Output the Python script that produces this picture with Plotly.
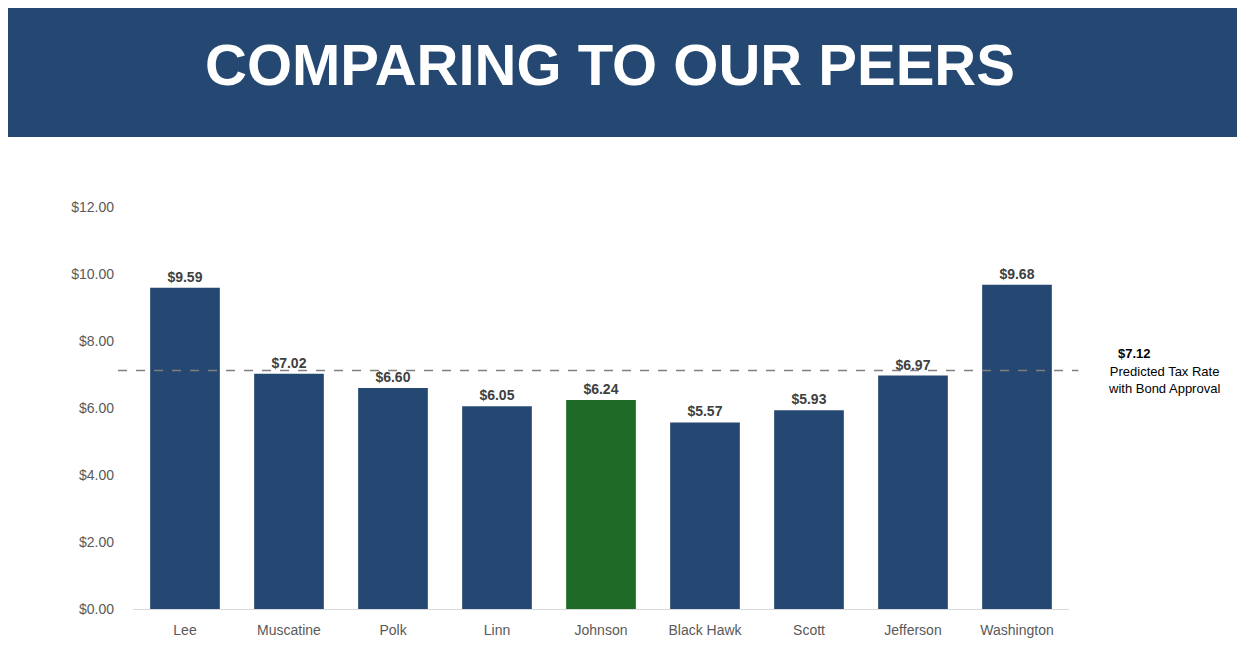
import plotly.graph_objects as go

counties = ["Lee", "Muscatine", "Polk", "Linn", "Johnson", "Black Hawk", "Scott", "Jefferson", "Washington"]
rates = [9.59, 7.02, 6.60, 6.05, 6.24, 5.57, 5.93, 6.97, 9.68]
predicted = 7.12
tick_vals = [0, 2, 4, 6, 8, 10, 12]

navy = "#254872"
green = "#1e6b27"
colors = [green if c == "Johnson" else navy for c in counties]

fig = go.Figure(go.Bar(
    x=counties, y=rates, marker_color=colors, marker_line_width=0,
    text=[f"<b>${v:.2f}</b>" for v in rates], textposition="outside",
    textfont=dict(family="Liberation Sans", size=14, color="#404040"),
    cliponaxis=False,
))
fig.update_layout(
    width=1245, height=672, paper_bgcolor="white", plot_bgcolor="white",
    margin=dict(l=125, r=184, t=199, b=71), bargap=0.33, showlegend=False,
    font=dict(family="Liberation Sans", color="#595959"),
    shapes=[
        dict(type="rect", xref="paper", yref="paper", x0=-0.3, x1=1.4, y0=1.174, y1=1.7,
             fillcolor=navy, line_width=0, layer="below"),
        dict(type="line", xref="paper", yref="y", x0=-0.016, x1=1.01, y0=predicted, y1=predicted,
             line=dict(color="#7f7f7f", width=1.5, dash="dash")),
    ],
    annotations=[
        dict(text="<b>COMPARING TO OUR PEERS</b>", xref="paper", yref="paper", x=0.51, y=1.355,
             xanchor="center", yanchor="middle", showarrow=False,
             font=dict(family="Liberation Sans", size=58, color="white")),
        dict(text=f"<b>${predicted:.2f}</b>", xref="paper", yref="y", x=1.05, y=predicted,
             yshift=17, xanchor="left", showarrow=False,
             font=dict(size=13, color="black")),
        dict(text="Predicted Tax Rate<br>with Bond Approval", xref="paper", yref="y", x=1.101, y=predicted,
             yshift=-10, xanchor="center", showarrow=False, align="center",
             font=dict(size=13, color="black")),
    ],
)
fig.update_yaxes(range=[0, 12], tickvals=tick_vals, ticktext=[f"${v:.2f}" for v in tick_vals],
                 showgrid=False, zeroline=False, showline=False, tickfont=dict(size=14, color="#595959"),
                 ticks="", ticklabelstandoff=18)
fig.update_xaxes(showline=True, linecolor="#d9d9d9", linewidth=1, tickfont=dict(size=14, color="#595959"),
                 ticklabelstandoff=8)
fig.write_html("out.html")
